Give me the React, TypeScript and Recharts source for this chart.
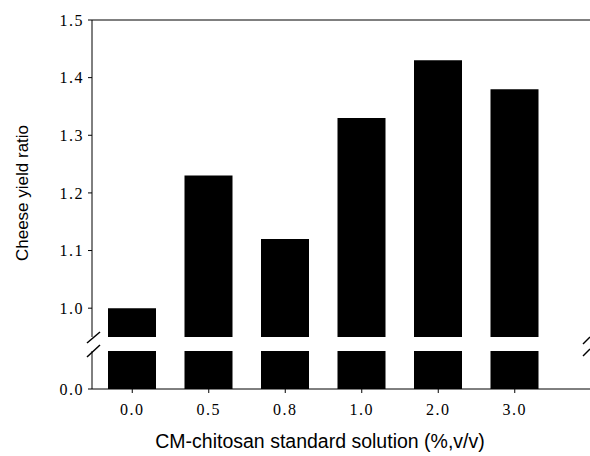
import React from 'react';
import { BarChart, Bar, XAxis, YAxis, ReferenceLine } from 'recharts';

const concentrations = ['0.0', '0.5', '0.8', '1.0', '2.0', '3.0'];
const yieldRatio = [1.0, 1.23, 1.12, 1.33, 1.43, 1.38];
const upperTicks = [1.0, 1.1, 1.2, 1.3, 1.4, 1.5];
const lowerTicks = [0];

const data = concentrations.map((c, i) => ({ conc: c, ratio: yieldRatio[i] }));

const serifTick = {
  fontFamily: '"Liberation Serif", "Times New Roman", serif',
  fontSize: 16,
  letterSpacing: 1.5,
  fill: '#000',
};
const sans = '"Liberation Sans", Arial, sans-serif';
const W = 590;
const xPad = { left: 2, right: 37 };

export default function App() {
  return (
    <div style={{ position: 'absolute', left: 0, top: 0, width: W, height: 456, background: '#fff' }}>
      {/* upper segment: 0.95 - 1.5 */}
      <div style={{ position: 'absolute', left: 0, top: 0 }}>
        <BarChart width={W} height={340} data={data} margin={{ top: 20, right: 0, bottom: 3, left: 0 }}>
          <XAxis dataKey="conc" hide padding={xPad} />
          <YAxis
            domain={[0.95, 1.5]}
            ticks={upperTicks}
            allowDataOverflow
            width={92}
            tickSize={4}
            tickMargin={4}
            tick={serifTick}
            tickFormatter={(v: number) => v.toFixed(1)}
            stroke="#000"
            label={{
              content: () => (
                <text
                  x={22}
                  y={193}
                  transform="rotate(-90 22 193)"
                  textAnchor="middle"
                  dominantBaseline="central"
                  fontFamily={sans}
                  fontSize={17}
                  fill="#000"
                >
                  Cheese yield ratio
                </text>
              ),
            }}
          />
          <ReferenceLine y={1.5} stroke="#000" />
          <Bar dataKey="ratio" fill="#000" barSize={48} isAnimationActive={false} />
        </BarChart>
      </div>
      {/* lower segment: 0 - 0.066 */}
      <div style={{ position: 'absolute', left: 0, top: 345 }}>
        <BarChart width={W} height={111} data={data} margin={{ top: 6, right: 0, bottom: 0, left: 0 }}>
          <XAxis
            dataKey="conc"
            padding={xPad}
            height={67}
            tickSize={4}
            tickMargin={11}
            tick={serifTick}
            stroke="#000"
            label={{
              content: () => (
                <text
                  x={320}
                  y={96}
                  textAnchor="middle"
                  dominantBaseline="central"
                  fontFamily={sans}
                  fontSize={19.5}
                  fill="#000"
                >
                  CM-chitosan standard solution (%,v/v)
                </text>
              ),
            }}
          />
          <YAxis
            domain={[0, 0.066]}
            ticks={lowerTicks}
            allowDataOverflow
            width={92}
            tickSize={4}
            tickMargin={4}
            tick={serifTick}
            tickFormatter={(v: number) => v.toFixed(1)}
            stroke="#000"
          />
          <Bar dataKey="ratio" fill="#000" barSize={48} isAnimationActive={false} />
        </BarChart>
      </div>
      {/* axis break marks */}
      <svg style={{ position: 'absolute', left: 0, top: 0 }} width={W} height={456} pointerEvents="none">
        <rect x={88} y={338} width={8} height={12} fill="#fff" />
        <line x1={87} y1={343} x2={100} y2={332} stroke="#000" strokeWidth={1.5} />
        <line x1={87} y1={357} x2={100} y2={345} stroke="#000" strokeWidth={1.5} />
        <line x1={583} y1={344} x2={590} y2={337} stroke="#000" strokeWidth={1.5} />
        <line x1={583} y1={356} x2={590} y2={349} stroke="#000" strokeWidth={1.5} />
      </svg>
    </div>
  );
}
